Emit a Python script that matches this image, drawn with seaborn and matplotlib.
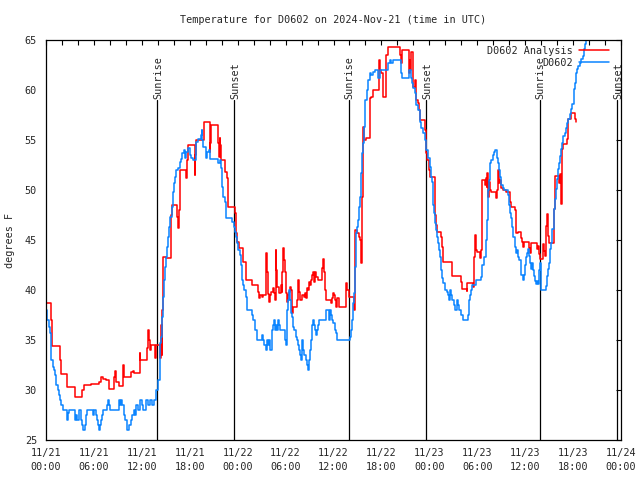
import matplotlib
matplotlib.use("Agg")
import matplotlib.pyplot as plt
import seaborn as sns
import pandas as pd

# ---------------- data (hours since 2024-11-21 00:00 UTC, degrees F) ----------------
analysis_hours = [
    0.0, 0.67, 0.79, 1.71, 1.92, 2.67, 3.625, 4.54, 4.75, 5.67, 6.625, 6.92, 7.17, 7.46,
    7.875, 8.5, 8.625, 8.75, 9.125, 9.67, 9.75, 10.67, 10.92, 11.08, 11.75, 11.83,
    12.67, 12.79, 12.92, 13.0, 13.125, 13.67, 13.75, 14.33, 14.46, 14.5, 14.58, 14.67,
    15.0, 15.71, 15.79, 16.46, 16.54, 16.67, 16.75, 16.83, 17.58, 17.67, 17.71, 17.79,
    18.625, 18.67, 18.83, 19.75, 20.5, 20.58, 20.71, 21.54, 21.625, 21.75, 21.83, 21.96,
    22.375, 22.67, 22.79, 23.625, 23.75, 23.83, 23.96, 24.17, 24.67, 25.08, 25.75,
    26.58, 26.67, 26.79, 27.0, 27.21, 27.58, 27.71, 27.79, 27.92, 28.0, 28.125, 28.42,
    28.54, 28.67, 28.75, 28.83, 28.96, 29.17, 29.375, 29.5, 29.58, 29.71, 29.83, 29.92,
    30.0, 30.125, 30.25, 30.42, 30.54, 30.67, 30.83, 30.92, 31.46, 31.58, 31.67, 31.79,
    32.08, 32.29, 32.42, 32.54, 32.67, 32.79, 32.92, 33.04, 33.17, 33.29, 33.42, 33.58,
    33.67, 33.83, 34.04, 34.5, 34.67, 34.75, 34.79, 34.92, 35.08, 35.67, 35.83, 35.96,
    36.08, 36.25, 36.375, 36.5, 36.67, 37.625, 37.75, 37.92, 38.54, 38.67, 38.75, 39.0,
    39.17, 39.29, 39.42, 39.5, 39.58, 39.71, 39.83, 40.125, 40.54, 40.75, 40.96, 41.71,
    41.79, 42.0, 42.21, 42.54, 42.83, 44.29, 44.42, 44.58, 45.42, 45.54, 45.625, 45.75,
    45.96, 46.17, 46.375, 46.58, 46.71, 46.79, 47.42, 47.54, 47.625, 47.75, 47.92, 48.08,
    48.71, 48.79, 48.92, 49.42, 49.54, 49.67, 50.875, 51.92, 52.04, 52.125, 52.67, 52.75,
    53.46, 53.58, 53.67, 53.79, 53.92, 54.33, 54.42, 54.54, 54.625, 54.92, 55.04, 55.17,
    55.25, 55.33, 55.42, 55.5, 55.58, 55.67, 56.29, 56.5, 56.625, 56.71, 56.83, 57.0,
    57.25, 57.54, 58.08, 58.25, 58.67, 58.79, 59.08, 59.42, 59.625, 59.75, 59.83, 60.5,
    60.58, 60.67, 61.5, 61.625, 61.75, 61.83, 62.25, 62.33, 62.46, 62.58, 62.67, 62.75,
    62.83, 63.0, 63.58, 63.71, 64.25, 64.42, 64.5, 64.58, 64.67, 64.75, 65.29, 65.42,
    65.71, 66.21, 66.33, 66.42,
]
analysis_temps = [
    38.7, 37.0, 34.4, 33.0, 31.6, 30.3, 29.3, 30.0, 30.5, 30.6, 30.8, 31.3, 31.1, 31.0,
    30.1, 31.3, 31.9, 30.8, 30.4, 32.5, 31.3, 31.8, 31.9, 31.7, 33.7, 33.0,
    34.2, 36.0, 35.0, 34.0, 34.5, 33.2, 34.5, 33.2, 36.5, 33.5, 38.0, 43.3,
    43.2, 47.5, 48.5, 47.3, 46.2, 48.0, 50.0, 52.0, 51.2, 52.0, 53.0, 54.5,
    51.5, 53.5, 55.0, 56.8, 53.8, 54.7, 56.5, 54.7, 53.3, 55.2, 54.5, 53.0,
    51.8, 51.2, 48.3, 47.7, 46.7, 45.7, 44.8, 44.2, 42.8, 41.0, 40.5,
    39.8, 39.2, 39.5, 39.3, 39.5, 43.7, 41.8, 39.6, 38.8, 39.5, 39.8, 40.2,
    39.7, 39.0, 44.0, 42.0, 40.3, 39.7, 40.5, 39.8, 41.8, 44.2, 43.0, 41.8,
    39.7, 38.8, 39.5, 39.8, 40.3, 40.0, 37.7, 38.3, 39.0, 41.0, 39.8, 39.0,
    39.5, 39.3, 39.7, 39.2, 40.2, 40.0, 40.8, 40.5, 41.0, 41.5, 41.8, 40.8,
    41.8, 41.3, 41.0, 42.2, 43.1, 42.3, 41.8, 40.0, 39.0, 38.7, 39.2, 39.7,
    39.5, 39.0, 38.3, 39.2, 38.3, 40.7, 40.0, 39.3, 38.0, 42.0, 46.0, 45.7,
    45.3, 45.0, 44.2, 42.7, 49.3, 56.3, 55.0, 55.2, 59.2, 59.3, 60.0, 63.0,
    62.0, 61.7, 59.3, 63.5, 64.3, 63.5, 62.7, 64.0, 61.7, 63.0, 62.0, 63.8,
    60.3, 61.0, 59.0, 58.7, 58.0, 57.0, 56.0, 55.0, 53.7, 53.0, 52.0, 51.3,
    47.5, 46.5, 45.8, 45.3, 44.3, 42.8, 41.4, 40.8, 40.3, 40.1, 39.9, 40.7,
    40.3, 43.3, 45.5, 44.0, 43.8, 43.2, 44.0, 46.7, 51.0, 50.5, 51.2, 50.3,
    51.7, 49.3, 50.2, 50.8, 50.0, 49.8, 49.2, 50.0, 52.0, 50.7, 51.0, 50.2,
    50.0, 49.8, 48.8, 48.3, 48.0, 45.7, 45.8, 45.2, 44.8, 44.3, 44.8, 44.2,
    43.7, 44.7, 44.1, 44.4, 43.6, 43.1, 44.6, 43.9, 43.4, 44.1, 46.4, 47.6,
    45.4, 44.7, 48.1, 51.4, 50.7, 51.6, 48.6, 51.5, 54.1, 54.6, 55.1, 57.1,
    57.7, 57.1, 56.8, 56.8,
]

obs_hours = [
    0.0, 0.17, 0.33, 0.46, 0.58, 0.67, 0.83, 1.0, 1.17, 1.29, 1.46, 1.625, 1.75, 1.92,
    2.08, 2.67, 2.79, 2.92, 3.625, 3.79, 3.92, 4.08, 4.33, 4.46, 4.58, 4.83, 4.96, 5.08,
    5.92, 6.04, 6.21, 6.42, 6.54, 6.67, 6.75, 6.92, 7.04, 7.17, 7.58, 7.71, 7.875, 8.0,
    9.125, 9.25, 9.42, 9.54, 9.75, 9.92, 10.08, 10.42, 10.67, 10.83, 11.0, 11.17, 11.29,
    11.54, 11.83, 12.0, 12.17, 12.5, 12.83, 13.0, 13.25, 13.5, 13.83, 14.0,
    14.25, 14.33, 14.46, 14.58, 14.67, 14.79, 14.92, 15.08, 15.17, 15.29, 15.42, 15.58,
    15.75, 15.92, 16.04, 16.17, 16.33, 16.54, 16.83, 16.96, 17.08, 17.25, 17.375, 17.5,
    17.79, 18.0, 18.21, 18.42, 18.83, 19.04, 19.375, 19.5, 19.58, 19.67, 20.08, 20.21,
    20.42, 20.58, 21.54, 21.75, 21.875, 22.0, 22.08, 22.17, 22.375, 22.58, 23.33, 23.5,
    23.67, 23.83, 23.96, 24.08, 24.25, 24.375, 24.5, 24.58, 24.71, 24.83, 25.0, 25.21,
    25.83, 25.96, 26.125, 26.46, 27.08, 27.21, 27.33, 27.5, 27.625, 27.79, 27.92, 28.08,
    28.25, 28.33, 28.46, 28.58, 28.71, 28.83, 28.96, 29.08, 29.21, 29.33, 29.875, 30.0,
    30.125, 30.21, 30.33, 30.46, 30.54, 30.67, 30.83, 30.96, 31.08, 31.25, 31.375, 31.5,
    31.625, 31.75, 31.875, 32.0, 32.08, 32.21, 32.33, 32.5, 32.625, 32.75, 32.875, 33.0,
    33.125, 33.25, 33.33, 33.46, 33.58, 33.71, 33.83, 33.96, 34.08, 34.21, 35.0, 35.42,
    35.54, 35.71, 35.83, 35.96, 36.17, 36.375, 36.5, 38.04, 38.17, 38.33, 38.5, 38.58,
    38.67, 38.79, 38.875, 39.0, 39.08, 39.21, 39.33, 39.42, 39.5, 39.58, 39.71, 39.83,
    39.92, 40.0, 40.17, 40.33, 40.54, 40.75, 40.96, 41.17, 41.58, 41.79, 42.83, 43.04,
    43.25, 43.46, 44.42, 44.5, 44.625, 45.42, 45.67, 45.83, 45.96, 46.17, 46.375, 46.58,
    46.79, 47.0, 47.21, 47.42, 47.625, 47.83, 48.04, 48.17, 48.29, 48.42, 48.5, 48.58,
    48.67, 48.79, 48.92, 49.08, 49.21, 49.33, 49.5, 49.625, 49.75, 49.92, 50.17, 50.33,
    50.42, 50.54, 50.67, 50.83, 51.08, 51.25, 51.42, 51.58, 51.71, 52.0, 52.17, 52.83,
    52.96, 53.08, 53.25, 53.375, 53.79, 54.42, 54.625, 54.83, 55.04, 55.25, 55.375, 55.46,
    55.58, 55.75, 55.92, 56.08, 56.25, 56.42, 56.58, 56.71, 56.83, 57.0, 57.17, 57.33,
    57.83, 57.92, 58.08, 58.25, 58.375, 58.5, 58.67, 58.79, 58.92, 59.08, 59.25, 59.42,
    59.54, 59.67, 59.83, 59.96, 60.08, 60.25, 60.375, 60.5, 60.58, 60.71, 60.83, 60.92,
    61.08, 61.21, 61.33, 61.5, 61.625, 61.75, 61.83, 61.92, 62.04, 62.58, 62.75, 62.875,
    63.0, 63.17, 63.29, 63.42, 63.58, 63.71, 63.83, 64.0, 64.125, 64.25, 64.42, 64.54,
    64.67, 64.75, 64.96, 65.08, 65.25, 65.42, 65.58, 65.75, 65.92, 66.08, 66.21, 66.33,
    66.5, 66.625, 66.83, 67.04, 67.25, 67.375, 67.5, 67.58, 67.75,
]
obs_temps = [
    38.0, 37.0, 36.3, 35.7, 34.5, 33.0, 32.3, 32.0, 31.5, 30.5, 30.0, 29.5, 29.0, 28.5,
    28.0, 27.0, 27.7, 28.0, 27.0, 27.5, 27.0, 28.0, 27.0, 26.5, 26.0, 26.5, 27.5, 28.0,
    27.5, 28.0, 27.5, 27.0, 26.5, 26.0, 26.5, 27.0, 27.5, 28.0, 28.5, 29.0, 28.5, 28.0,
    29.0, 28.5, 29.0, 28.5, 27.5, 27.0, 26.0, 26.5, 27.0, 27.5, 28.0, 27.5, 28.5,
    28.0, 29.0, 28.5, 28.0, 29.0, 28.5, 29.0, 28.5, 29.0, 30.0, 31.0,
    32.3, 34.7, 35.3, 37.3, 39.3, 41.0, 42.3, 43.3, 44.3, 45.3, 46.3, 47.3,
    48.3, 49.8, 50.7, 51.3, 52.0, 52.2, 52.8, 53.1, 53.7, 54.0, 53.2, 53.8,
    54.2, 53.5, 53.2, 53.0, 54.8, 55.1, 55.5, 56.0, 55.0, 54.3, 53.2, 53.8,
    54.0, 53.1, 52.7, 53.0, 52.2, 51.8, 50.3, 49.3, 48.8, 47.2, 46.8, 46.3,
    45.8, 45.3, 44.7, 44.0, 43.5, 42.5, 41.5, 41.0, 40.5, 40.0, 39.3, 38.0,
    37.5, 37.0, 36.0, 35.0, 35.5, 35.0, 34.5, 34.0, 35.0, 34.5, 35.0, 34.0,
    35.0, 36.0, 36.5, 37.0, 36.0, 36.5, 36.0, 37.0, 36.5, 36.0, 35.0, 34.5,
    35.3, 38.0, 39.0, 40.0, 39.0, 37.7, 37.3, 36.3, 36.0, 35.3, 35.0, 34.5,
    34.0, 33.5, 33.0, 34.0, 35.0, 34.0, 33.5, 33.0, 32.5, 32.0, 33.0, 34.0,
    35.0, 36.0, 36.5, 37.0, 36.5, 36.0, 35.5, 36.0, 36.5, 37.0, 38.0, 37.0,
    38.0, 37.5, 37.0, 36.7, 36.0, 35.7, 35.0, 35.3, 36.0, 37.0, 38.7, 39.7,
    42.3, 44.3, 45.7, 46.3, 47.0, 48.3, 49.3, 50.3, 51.7, 53.7, 54.7, 56.3,
    57.3, 59.0, 60.0, 61.0, 61.7, 61.5, 61.8, 62.0, 61.2, 62.0, 62.7, 63.0,
    62.7, 63.0, 62.0, 61.7, 61.2, 62.0, 61.2, 60.7, 60.2, 59.7, 58.5, 58.0,
    56.8, 56.2, 55.7, 55.0, 54.0, 53.2, 52.3, 51.3, 50.8, 49.7, 48.5, 47.7,
    46.7, 46.0, 45.3, 44.7, 44.0, 43.3, 42.0, 41.2, 40.7, 40.0, 39.8, 39.5,
    39.0, 40.0, 39.5, 39.0, 38.5, 38.0, 39.0, 38.5, 38.0, 37.5, 37.0, 37.5,
    39.0, 39.5, 40.0, 40.5, 41.0, 41.3, 42.5, 43.3, 45.0, 47.0, 50.0, 51.0,
    52.7, 53.0, 53.5, 53.8, 54.0, 53.2, 52.7, 52.0, 51.3, 50.5, 50.2, 50.0,
    49.5, 48.5, 47.7, 47.2, 46.3, 45.3, 44.3, 43.7, 44.0, 43.3, 43.0, 42.3,
    41.5, 41.0, 41.5, 42.5, 43.3, 43.7, 44.1, 43.4, 42.7, 42.1, 42.7, 42.0,
    41.4, 40.9, 40.6, 40.9, 40.6, 42.0, 42.7, 41.4, 40.0, 40.4, 41.4, 42.1,
    42.7, 44.1, 44.7, 46.1, 48.1, 49.1, 50.1, 51.1, 52.1, 52.7, 53.4, 54.1,
    54.7, 55.4, 55.7, 56.2, 56.7, 57.1, 57.6, 58.1, 58.6, 60.1, 60.7, 61.7,
    62.1, 62.4, 62.7, 63.1, 63.4, 64.1, 64.6, 65.1, 66.0,
]

sunrise_hours = [13.9, 37.88, 61.8]
sunset_hours = [23.55, 47.55, 71.55]
sun_line_top = 59.0

x_tick_hours = list(range(0, 73, 6))
x_tick_labels = [
    "11/21\n00:00", "11/21\n06:00", "11/21\n12:00", "11/21\n18:00",
    "11/22\n00:00", "11/22\n06:00", "11/22\n12:00", "11/22\n18:00",
    "11/23\n00:00", "11/23\n06:00", "11/23\n12:00", "11/23\n18:00",
    "11/24\n00:00",
]
y_ticks = [25, 30, 35, 40, 45, 50, 55, 60, 65]

title_text = "Temperature for D0602 on 2024-Nov-21 (time in UTC)"
y_label_text = "degrees F"
analysis_label = "D0602 Analysis"
obs_label = "D0602"

# ---------------- styling ----------------
sns.set_style("white")
FONT = "DejaVu Sans Mono"
plt.rcParams["font.family"] = [FONT, "DejaVu Sans"]
FS = 7.3

fig = plt.figure(figsize=(6.4, 4.8), dpi=100)
ax = fig.add_axes([46 / 640, 1 - 440 / 480, (621 - 46) / 640, 400 / 480])

df_a = pd.DataFrame({"hour": analysis_hours, "temp": analysis_temps})
df_o = pd.DataFrame({"hour": obs_hours, "temp": obs_temps})

sns.lineplot(data=df_a, x="hour", y="temp", ax=ax, color="#ff0000", lw=1.1,
             drawstyle="steps-post", estimator=None, sort=False, label=analysis_label)
sns.lineplot(data=df_o, x="hour", y="temp", ax=ax, color="#0a84ff", lw=1.1,
             drawstyle="steps-post", estimator=None, sort=False, label=obs_label)

for h in sunrise_hours:
    ax.plot([h, h], [25, sun_line_top], color="black", lw=0.9, zorder=1)
    ax.text(h + 0.15, sun_line_top + 0.1, "Sunrise", rotation=90, ha="center", va="bottom",
            fontsize=FS, family=FONT)
for h in sunset_hours:
    ax.plot([h, h], [25, sun_line_top], color="black", lw=0.9, zorder=1)
    ax.text(h + 0.15, sun_line_top + 0.1, "Sunset", rotation=90, ha="center", va="bottom",
            fontsize=FS, family=FONT)

ax.set_xlim(0, 72)
ax.set_ylim(25, 65)
ax.set_xticks(x_tick_hours)
ax.set_xticklabels(x_tick_labels, fontsize=FS, family=FONT, linespacing=1.45)
ax.set_xticks(list(range(0, 73, 2)), minor=True)
ax.set_yticks(y_ticks)
ax.set_yticklabels([str(v) for v in y_ticks], fontsize=FS, family=FONT)
ax.tick_params(axis="both", which="both", direction="in", length=3.5, width=0.8,
               top=True, right=True, color="black")
ax.tick_params(axis="x", which="major", pad=6)
ax.tick_params(axis="y", which="major", pad=6.5)
ax.set_xlabel("")
ax.set_ylabel("")
for s in ax.spines.values():
    s.set_color("black")
    s.set_linewidth(0.9)
    s.set_visible(True)

leg = ax.legend(loc="upper right", frameon=False, markerfirst=False,
                prop={"family": FONT, "size": FS}, handlelength=3.0,
                handletextpad=0.6, labelspacing=0.22, borderaxespad=0.4,
                borderpad=0.4,
                bbox_to_anchor=(1 - 3.5 / 575, 1 + 2.5 / 400))

fig.text(333.5 / 640, 1 - 20 / 480, title_text, ha="center", va="center",
         fontsize=FS, family=FONT)
fig.text(10 / 640, 0.5, y_label_text, rotation=90, ha="center", va="center",
         fontsize=FS, family=FONT)

fig.savefig("out.png", dpi=100)
